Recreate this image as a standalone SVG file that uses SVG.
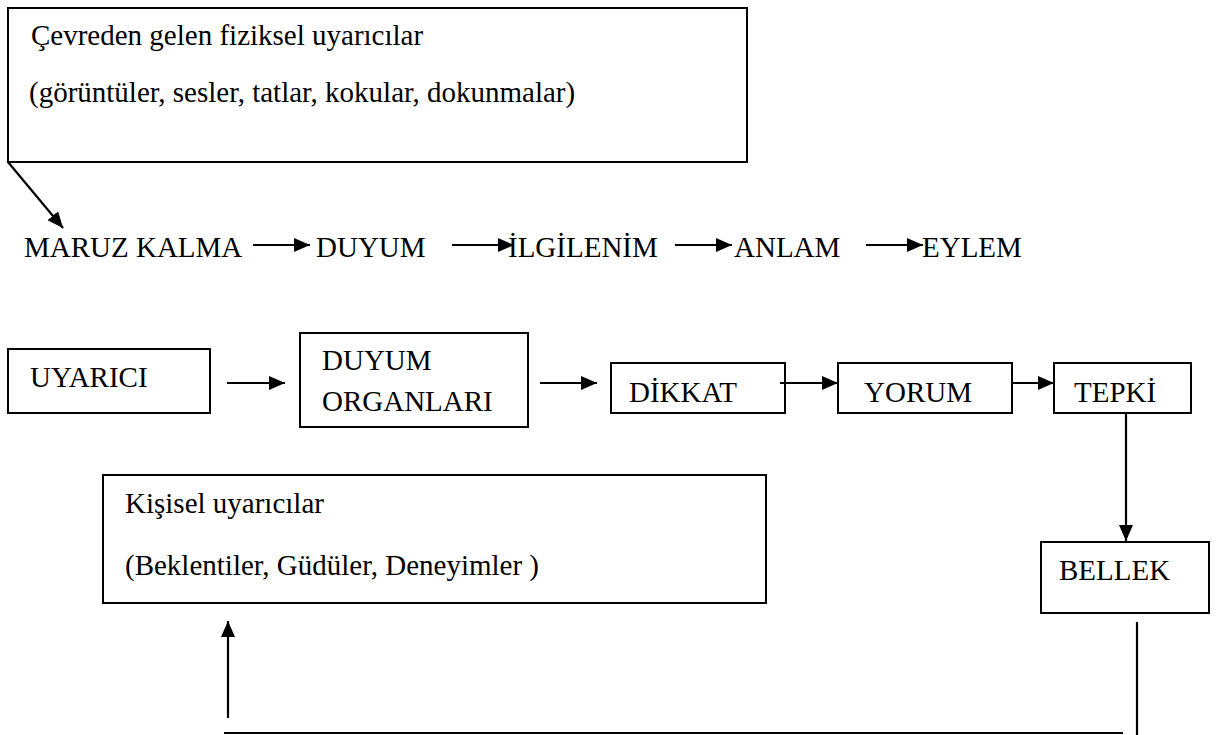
<svg xmlns="http://www.w3.org/2000/svg" width="1216" height="735" viewBox="0 0 1216 735">
<style>
  text { font-family: "Liberation Serif", "Times New Roman", serif; font-size: 29px; fill: #000; }
  .box { fill: #fff; stroke: #000; stroke-width: 2; }
  .conn { stroke: #000; stroke-width: 2.2; fill: none; }
</style>
<defs>
  <marker id="ah" markerUnits="userSpaceOnUse" markerWidth="17" markerHeight="14" refX="16" refY="7" orient="auto">
    <path d="M0,0 L16,7 L0,14 z" fill="#000"/>
  </marker>
</defs>
<rect width="1216" height="735" fill="#fff"/>

<g id="cevre">
  <rect class="box" x="8" y="8" width="739" height="154"/>
  <text x="31" y="45">Çevreden gelen fiziksel uyarıcılar</text>
  <text x="29" y="102">(görüntüler, sesler, tatlar, kokular, dokunmalar)</text>
</g>

<g id="maruz"><text x="24" y="257">MARUZ KALMA</text></g>
<g id="duyum"><text x="316" y="257">DUYUM</text></g>
<g id="ilgilenim"><text x="508" y="257">İLGİLENİM</text></g>
<g id="anlam"><text x="734" y="257">ANLAM</text></g>
<g id="eylem"><text x="922" y="257">EYLEM</text></g>

<g id="uyarici">
  <rect class="box" x="8" y="349" width="202" height="64"/>
  <text x="30" y="387">UYARICI</text>
</g>
<g id="duyum-organlari">
  <rect class="box" x="300" y="333" width="228" height="94"/>
  <text x="322" y="370">DUYUM</text>
  <text x="322" y="411">ORGANLARI</text>
</g>
<g id="dikkat">
  <rect class="box" x="611" y="363" width="174" height="50"/>
  <text x="629" y="402">DİKKAT</text>
</g>
<g id="yorum">
  <rect class="box" x="838" y="363" width="174" height="50"/>
  <text x="864" y="402">YORUM</text>
</g>
<g id="tepki">
  <rect class="box" x="1054" y="363" width="137" height="50"/>
  <text x="1074" y="402">TEPKİ</text>
</g>
<g id="kisisel">
  <rect class="box" x="103" y="475" width="663" height="128"/>
  <text x="125" y="513">Kişisel uyarıcılar</text>
  <text x="125" y="575">(Beklentiler, Güdüler, Deneyimler )</text>
</g>
<g id="bellek">
  <rect class="box" x="1041" y="542" width="168" height="71"/>
  <text x="1059" y="580">BELLEK</text>
</g>

<g id="connectors">
  <line class="conn" x1="8" y1="162" x2="63" y2="228" marker-end="url(#ah)"/>
  <line class="conn" x1="253" y1="245" x2="310" y2="245" marker-end="url(#ah)"/>
  <line class="conn" x1="452" y1="245" x2="514" y2="245" marker-end="url(#ah)"/>
  <line class="conn" x1="675" y1="245" x2="732" y2="245" marker-end="url(#ah)"/>
  <line class="conn" x1="866" y1="245" x2="923" y2="245" marker-end="url(#ah)"/>
  <line class="conn" x1="227" y1="383" x2="285" y2="383" marker-end="url(#ah)"/>
  <line class="conn" x1="540" y1="383" x2="597" y2="383" marker-end="url(#ah)"/>
  <line class="conn" x1="780" y1="383" x2="838" y2="383" marker-end="url(#ah)"/>
  <line class="conn" x1="1012" y1="383" x2="1054" y2="383" marker-end="url(#ah)"/>
  <line class="conn" x1="1126" y1="413" x2="1126" y2="541" marker-end="url(#ah)"/>
  <line class="conn" x1="228" y1="718" x2="228" y2="621" marker-end="url(#ah)"/>
  <line class="conn" x1="224" y1="733" x2="1123" y2="733"/>
  <line class="conn" x1="1137" y1="622" x2="1137" y2="735"/>
</g>
</svg>
